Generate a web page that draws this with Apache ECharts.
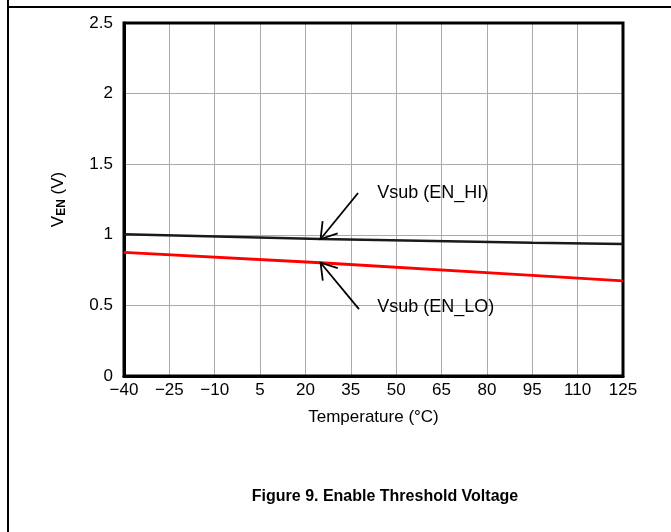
<!DOCTYPE html>
<html>
<head>
<meta charset="utf-8">
<script src="https://cdn.jsdelivr.net/npm/echarts@6/dist/echarts.min.js"></script>
<style>
html,body{margin:0;padding:0;background:#fff;}
#chart{width:671px;height:532px;}
</style>
</head>
<body>
<div id="chart"></div>
<script>
// ---- data ----
const temps = [-40, 25, 95, 125];
const enHi = [1.004, 0.970, 0.944, 0.934];
const enLo = [0.876, 0.802, 0.712, 0.673];
const xTickLabels = ['\u221240','\u221225','\u221210','5','20','35','50','65','80','95','110','125'];
const yMin = 0, yMax = 2.5, yStep = 0.5;
const hiLabel = 'Vsub (EN_HI)';
const loLabel = 'Vsub (EN_LO)';
// annotation anchors in data coordinates: tip, tail, text position
const hiArrow = {tip:[25, 0.970], tail:[37.4, 1.296], text:[43.7, 1.296]};
const loArrow = {tip:[25, 0.802], tail:[37.7, 0.474], text:[43.7, 0.489]};

const FONT = '"Liberation Sans", Arial, sans-serif';
const chart = echarts.init(document.getElementById('chart'), null, {renderer:'canvas'});

const option = {
  animation: false,
  backgroundColor: '#fff',
  grid: {left:124, right:48, top:23, bottom:156, show:true, borderColor:'#000', borderWidth:3, backgroundColor:'transparent', z:3},
  xAxis: [
    {type:'value', min:-40, max:125, show:false},
    {type:'category', data:xTickLabels, boundaryGap:false, position:'bottom',
     axisLine:{show:true, lineStyle:{color:'#000', width:3}},
     axisTick:{show:false},
     axisLabel:{color:'#000', fontFamily:FONT, fontSize:17, margin:6},
     splitLine:{show:true, lineStyle:{color:'#aaaaaa', width:1}},
     name:'Temperature (\u00B0C)', nameLocation:'middle', nameGap:33,
     nameTextStyle:{color:'#000', fontFamily:FONT, fontSize:17}
    }
  ],
  yAxis: {
    type:'value', min:yMin, max:yMax, interval:yStep,
    axisLine:{show:true, onZero:false, lineStyle:{color:'#000', width:3}},
    axisTick:{show:false},
    axisLabel:{color:'#000', fontFamily:FONT, fontSize:17, margin:11},
    splitLine:{show:true, lineStyle:{color:'#aaaaaa', width:1}},
    name:'{v|V}{s|EN}{v| (V)}', nameLocation:'middle', nameGap:56, nameRotate:90,
    nameTextStyle:{color:'#000', fontFamily:FONT, fontSize:17,
      rich:{v:{fontFamily:FONT, fontSize:17, color:'#000'},
            s:{fontFamily:FONT, fontSize:12, fontWeight:'bold', color:'#000', verticalAlign:'bottom', padding:[7,0,0,0]}}}
  },
  series: [
    {name:'EN_HI', type:'line', xAxisIndex:0, yAxisIndex:0, data:temps.map((t,i)=>[t,enHi[i]]),
     showSymbol:false, lineStyle:{color:'#1a1a1a', width:2.5}, z:5},
    {name:'EN_LO', type:'line', xAxisIndex:0, yAxisIndex:0, data:temps.map((t,i)=>[t,enLo[i]]),
     showSymbol:false, lineStyle:{color:'#ff0000', width:2.8}, z:5}
  ]
};
chart.setOption(option);

function px(p){ return chart.convertToPixel({xAxisIndex:0, yAxisIndex:0}, p); }
function arrowGraphics(a, label){
  const tip = px(a.tip), tail = px(a.tail), tp = px(a.text);
  const ang = Math.atan2(tail[1]-tip[1], tail[0]-tip[0]);
  const L = 18, da = 0.57;
  const arm1 = [tip[0]+L*Math.cos(ang+da), tip[1]+L*Math.sin(ang+da)];
  const arm2 = [tip[0]+L*Math.cos(ang-da), tip[1]+L*Math.sin(ang-da)];
  const st = {stroke:'#000', lineWidth:1.8, fill:null};
  return [
    {type:'polyline', shape:{points:[tail, tip]}, style:st, z:10},
    {type:'polyline', shape:{points:[arm1, tip, arm2]}, style:st, z:10},
    {type:'text', x:tp[0], y:tp[1], style:{text:label, fill:'#000', font:'18px '+FONT, textAlign:'left', textVerticalAlign:'middle'}, z:10}
  ];
}

chart.setOption({
  graphic: [
    {type:'line', shape:{x1:8, y1:0, x2:8, y2:532}, style:{stroke:'#000', lineWidth:2}},
    {type:'line', shape:{x1:8, y1:7, x2:671, y2:7}, style:{stroke:'#000', lineWidth:2}},
    {type:'text', x:385, y:497, style:{text:'Figure 9. Enable Threshold Voltage', fill:'#000', font:'bold 16px '+FONT, textAlign:'center', textVerticalAlign:'middle'}}
  ].concat(arrowGraphics(hiArrow, hiLabel), arrowGraphics(loArrow, loLabel))
});
</script>
</body>
</html>
